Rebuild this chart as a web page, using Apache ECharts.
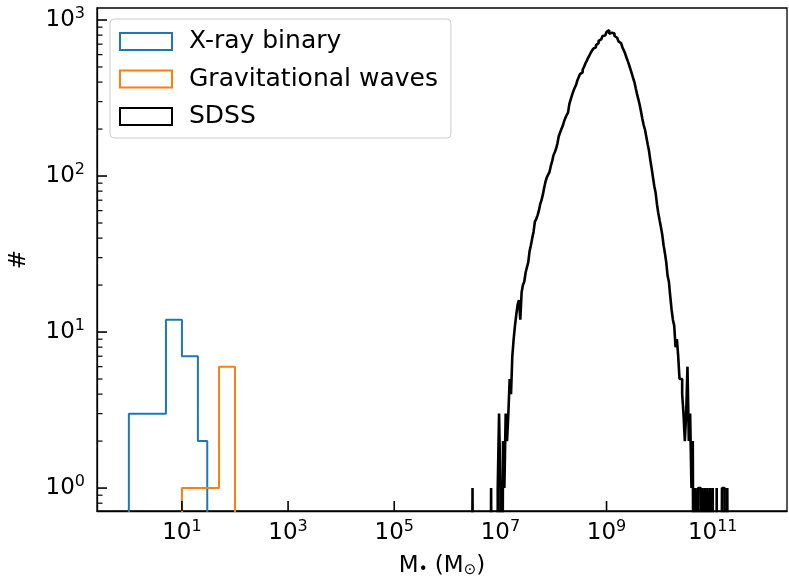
<!DOCTYPE html>
<html>
<head>
<meta charset="utf-8">
<script src="https://cdn.jsdelivr.net/npm/echarts@6/dist/echarts.min.js"></script>
<style>html,body{margin:0;padding:0;background:#fff}#c{width:789px;height:583px}</style>
</head>
<body>
<div id="c"></div>
<script>
// ---- data ----
const xrbEdges = [1, 5, 10, 20, 30];
const xrbCounts = [3, 12, 7, 2];
const gwEdges = [10, 50, 100];
const gwCounts = [1, 6];
// SDSS histogram: log10 bin start and width (dex), counts per bin
const sdssLogMin = 6.4;
const sdssBinWidth = 0.025;
const sdssCounts = [
  0,0,0,1,0,0,0,0,0,0, 0,0,0,0,0,0,0,1,0,0,
  0,0,1,3,1,0,2,1,3,2, 3,5,4,7,9,11,13,15,16,12,
  18,20,21,24,26,28,33,36,40,44, 51,53,56,60,66,70,76,84,92,98,
  102,106,116,124,136,142,150,162,180,190, 200,210,224,236,246,256,290,310,330,350,
  368,382,410,430,450,462,480,500,525,545, 570,590,615,635,655,668,690,710,735,752,
  770,790,795,805,840,860,815,830,835,820, 790,770,750,730,710,690,665,640,610,575,
  545,515,485,455,425,400,365,335,310,285, 258,232,212,198,178,160,145,126,112,98,
  86,78,66,58,52,47,42,36,32,28, 23,21,17,14,12,11,8,9,7,5,
  5,4,3,2,3,6,2,3,1,2, 0,1,0,1,1,0,1,0,1,0,
  1,0,1,0,1,0,0,1,0,0, 0,1,1,0,0,1,0,0,0,0
];
const seriesNames = ['X-ray binary', 'Gravitational waves', 'SDSS'];
const seriesColors = ['#1f77b4', '#ff7f0e', '#000000'];
const xTickValues = [10, 1e3, 1e5, 1e7, 1e9, 1e11];
const yTickValues = [1, 10, 100, 1000];
const yMinorTickValues = [0.8, 0.9, 2,3,4,5,6,7,8,9, 20,30,40,50,60,70,80,90, 200,300,400,500,600,700,800,900];

// ---- build ----
const FLOOR = 0.01;
function stepPoints(edges, counts) {
  const pts = [[edges[0], FLOOR]];
  for (let i = 0; i < counts.length; i++) {
    const c = counts[i] > 0 ? counts[i] : FLOOR;
    pts.push([edges[i], c]);
    pts.push([edges[i + 1], c]);
  }
  pts.push([edges[edges.length - 1], FLOOR]);
  return pts;
}
const sdssEdges = [];
for (let i = 0; i <= sdssCounts.length; i++) sdssEdges.push(Math.pow(10, sdssLogMin + i * sdssBinWidth));

const FONT = 'DejaVu Sans';
const supLabel = v => '{b|10}{s|' + Math.round(Math.log10(v)) + '}';
const labelRich = {
  b: {fontFamily: FONT, fontSize: 23, color: '#000', lineHeight: 28},
  s: {fontFamily: FONT, fontSize: 16, color: '#000', lineHeight: 18, verticalAlign: 'top'}
};

const chart = echarts.init(document.getElementById('c'), null, {renderer: 'canvas'});
const lineSeries = (name, color, pts, w) => ({
  name, type: 'line', data: pts, showSymbol: false, symbol: 'none',
  clip: true, animation: false, silent: true,
  lineStyle: {color, width: w}, itemStyle: {color}
});
// inward tick marks placed through the axes' own scales
const tickSeries = (axis, values, len, w) => ({
  type: 'custom', silent: true, animation: false, z: 5,
  data: values.map(v => axis === 'x' ? [v, 1] : [1, v]),
  renderItem: (params, api) => {
    const cs = params.coordSys;
    const p = api.coord([api.value(0), api.value(1)]);
    if (axis === 'x') {
      const b = cs.y + cs.height;
      return {type: 'line', shape: {x1: p[0], y1: b, x2: p[0], y2: b - len}, style: {stroke: '#000', lineWidth: w}};
    }
    return {type: 'line', shape: {x1: cs.x, y1: p[1], x2: cs.x + len, y2: p[1]}, style: {stroke: '#000', lineWidth: w}};
  }
});

chart.setOption({
  animation: false,
  backgroundColor: '#fff',
  grid: {left: 97, top: 8, width: 690, height: 505, show: true, borderColor: '#000', borderWidth: 1.3, backgroundColor: 'transparent'},
  legend: {
    orient: 'vertical', left: 110, top: 19,
    padding: [10, 13, 9, 9], itemGap: 12.5, itemWidth: 52, itemHeight: 17,
    backgroundColor: 'rgba(255,255,255,0.8)', borderColor: '#cccccc', borderWidth: 1, borderRadius: 4,
    textStyle: {fontFamily: FONT, fontSize: 25, color: '#000', padding: [0, 0, 0, 12]},
    data: seriesNames.map((n, i) => ({name: n, icon: 'rect', itemStyle: {color: 'transparent', borderColor: seriesColors[i], borderWidth: 2}}))
  },
  xAxis: {
    type: 'log', logBase: 10, min: Math.pow(10, -0.6), max: Math.pow(10, 12.4),
    name: 'M{s|•} (M{s|⊙})', nameLocation: 'middle', nameGap: 44,
    nameTextStyle: {fontFamily: FONT, fontSize: 23, color: '#000', rich: {s: {fontFamily: FONT, fontSize: 15, color: '#000', verticalAlign: 'bottom', lineHeight: 22}}},
    axisLine: {show: true, lineStyle: {color: '#000', width: 1.3}},
    axisTick: {show: false},
    axisLabel: {show: true, margin: 8, customValues: xTickValues, formatter: supLabel, rich: labelRich},
    splitLine: {show: false}, minorTick: {show: false}
  },
  yAxis: {
    type: 'log', logBase: 10, min: Math.pow(10, -0.147), max: Math.pow(10, 3.077), position: 'left',
    name: '#', nameLocation: 'middle', nameGap: 66, nameRotate: 90,
    nameTextStyle: {fontFamily: FONT, fontSize: 23, color: '#000'},
    axisLine: {show: true, lineStyle: {color: '#000', width: 1.3}},
    axisTick: {show: false},
    axisLabel: {show: true, margin: 12, customValues: yTickValues, formatter: supLabel, rich: labelRich},
    splitLine: {show: false}
  },
  series: [
    lineSeries(seriesNames[0], seriesColors[0], stepPoints(xrbEdges, xrbCounts), 2),
    lineSeries(seriesNames[1], seriesColors[1], stepPoints(gwEdges, gwCounts), 2),
    lineSeries(seriesNames[2], seriesColors[2], stepPoints(sdssEdges, sdssCounts), 2.6),
    tickSeries('x', xTickValues, 10, 1.6),
    tickSeries('y', yTickValues, 10, 1.6),
    tickSeries('y', yMinorTickValues, 5.5, 1.2)
  ]
});
</script>
</body>
</html>
